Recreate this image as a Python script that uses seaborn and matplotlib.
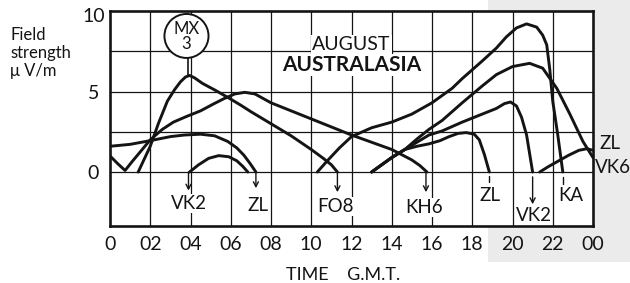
import matplotlib
matplotlib.use("Agg")
import matplotlib.pyplot as plt
from matplotlib.patches import Ellipse, Rectangle
import pandas as pd
import seaborn as sns

# ─── Curves: hour G.M.T. -> field strength (µV/m) ───
fo8_h = [1.4, 1.7, 2.0, 2.4, 2.85, 3.2, 3.5, 3.75, 3.95, 4.2, 4.6, 5.2, 5.9, 6.5, 7.0, 8.0, 9.0, 10.0, 10.6, 11.0, 11.3]
fo8_v = [0.0, 0.8, 1.6, 3.0, 4.4, 5.1, 5.6, 5.9, 6.0, 5.85, 5.5, 5.1, 4.6, 4.15, 3.75, 3.0, 2.25, 1.4, 0.85, 0.45, 0.0]

kh6_h = [0.0, 0.4, 0.75, 1.1, 1.5, 2.0, 2.6, 3.15, 3.8, 4.5, 5.1, 5.65, 6.2, 6.7, 7.2, 8.0, 9.0, 10.0, 11.0, 12.0, 13.0, 14.0, 15.0, 15.4, 15.75]
kh6_v = [1.0, 0.5, 0.1, 0.65, 1.25, 2.0, 2.65, 3.1, 3.45, 3.8, 4.2, 4.55, 4.85, 4.95, 4.85, 4.3, 3.8, 3.3, 2.8, 2.3, 1.85, 1.4, 0.75, 0.4, 0.0]

zl_am_h = [0.0, 1.0, 2.0, 3.0, 3.7, 4.5, 5.2, 5.85, 6.3, 6.65, 6.95, 7.25]
zl_am_v = [1.6, 1.72, 1.95, 2.2, 2.3, 2.35, 2.25, 1.9, 1.5, 1.05, 0.55, 0.0]

arc_am_h = [3.95, 4.4, 4.9, 5.4, 5.9, 6.3, 6.6, 6.85]
arc_am_v = [0.0, 0.45, 0.85, 1.02, 0.95, 0.7, 0.35, 0.0]

ka_h = [10.3, 10.8, 11.4, 12.0, 13.0, 14.0, 15.0, 16.0, 17.0, 17.5, 18.5, 19.2, 19.7, 20.2, 20.7, 21.2, 21.5, 21.7, 21.85, 22.0, 22.25, 22.5]
ka_v = [0.0, 0.7, 1.5, 2.2, 2.75, 3.1, 3.6, 4.3, 5.2, 5.8, 6.9, 7.7, 8.4, 8.95, 9.2, 9.0, 8.5, 7.9, 6.4, 4.4, 2.3, 0.0]

vk6_h = [13.0, 13.5, 14.0, 14.65, 15.25, 15.85, 16.5, 17.5, 18.5, 19.2, 20.0, 20.85, 21.5, 22.2, 22.85, 23.5, 24.0]
vk6_v = [0.0, 0.45, 0.9, 1.4, 2.05, 2.65, 3.2, 4.3, 5.35, 6.05, 6.55, 6.75, 6.45, 5.2, 3.6, 1.9, 0.9]

vk2_pm_h = [13.0, 13.5, 14.0, 14.65, 15.25, 15.85, 16.5, 17.5, 18.5, 19.2, 19.6, 19.9, 20.2, 20.45, 20.7, 21.0]
vk2_pm_v = [0.0, 0.45, 0.9, 1.4, 1.85, 2.3, 2.55, 3.1, 3.6, 3.95, 4.25, 4.35, 4.1, 3.4, 2.3, 0.0]

zl_pm_h = [13.0, 13.5, 14.0, 14.65, 15.25, 15.85, 16.4, 16.85, 17.3, 17.7, 18.1, 18.35, 18.6, 18.85]
zl_pm_v = [0.0, 0.45, 0.9, 1.4, 1.6, 1.75, 1.95, 2.2, 2.4, 2.45, 2.35, 2.0, 1.1, 0.0]

zl_late_h = [21.35, 21.8, 22.3, 22.8, 23.3, 23.7, 24.0]
zl_late_v = [0.0, 0.35, 0.7, 1.05, 1.35, 1.45, 1.35]

hour_ticks = list(range(0, 25, 2))
hour_labels = ["0", "02", "04", "06", "08", "10", "12", "14", "16", "18", "20", "22", "00"]

# station markers under the zero line
stations = ["VK2", "ZL", "FO8", "KH6", "ZL", "VK2", "KA"]
station_hour = [3.9, 7.25, 11.3, 15.7, 18.85, 21.0, 22.5]

curves = {
    "fo8": (fo8_h, fo8_v), "kh6": (kh6_h, kh6_v), "zl_am": (zl_am_h, zl_am_v),
    "arc_am": (arc_am_h, arc_am_v), "ka": (ka_h, ka_v), "vk6": (vk6_h, vk6_v),
    "vk2_pm": (vk2_pm_h, vk2_pm_v), "zl_pm": (zl_pm_h, zl_pm_v), "zl_late": (zl_late_h, zl_late_v),
}
df = pd.concat([pd.DataFrame({"curve": k, "hour": h, "value": v}) for k, (h, v) in curves.items()],
               ignore_index=True)

sns.set_style("white")
plt.rcParams["font.family"] = ["Lato", "DejaVu Sans"]

INK = "#141414"
fig = plt.figure(figsize=(6.3, 2.83), dpi=100)
# greyish scan of the facing page on the right
fig.patches.append(Rectangle((0.775, 0.075), 0.225, 0.925, transform=fig.transFigure,
                             fc="#ebebeb", ec="none", zorder=-5))
ax = fig.add_axes([110 / 630, 1 - 226 / 283, 483 / 630, 215 / 283])
ax.set_zorder(1)
ax.set_facecolor("white")

# ── grid ──
for h in hour_ticks[1:-1]:
    ax.axvline(h, color=INK, lw=0.9, zorder=1)
for v in [0, 2.5, 5, 7.5]:
    ax.axhline(v, color=INK, lw=0.9, zorder=1)

sns.lineplot(data=df, x="hour", y="value", units="curve", estimator=None, sort=False,
             color=INK, lw=2.1, ax=ax, legend=False, zorder=3,
             solid_capstyle="round", solid_joinstyle="round")

ax.set_xlim(0, 24)
ax.set_ylim(-3.35, 10)
ax.set_xlabel("")
ax.set_ylabel("")

for s in ax.spines.values():
    s.set_visible(True)
    s.set_linewidth(1.9)
    s.set_color(INK)
    s.set_zorder(6)

ax.set_xticks(hour_ticks)
ax.set_xticklabels(hour_labels)
ax.set_yticks([0, 2.5, 5, 7.5])
ax.set_yticklabels(["0", "", "5", ""])
ax.tick_params(axis="x", direction="out", length=3, width=1.2, pad=4, labelsize=14, colors=INK)
ax.tick_params(axis="y", direction="out", length=7, width=0.9, pad=1, labelsize=14, colors=INK)
ax.text(-0.25, 9.65, "10", ha="right", va="center", fontsize=14, color=INK)

# ── station arrows and labels ──
arrow_style = dict(arrowstyle="->,head_length=0.35,head_width=0.18", lw=1.0, color=INK,
                   shrinkA=0, shrinkB=0)
arrow_span = [(0, -1.15), (0, -1.0), (0, -1.25), (0, -1.25), (-0.25, -0.6), (-0.3, -2.0), (-0.3, -0.75)]
label_pos = [(3.9, -1.95), (7.35, -2.05), (11.2, -2.15), (15.6, -2.2), (18.9, -1.45), (21.05, -2.72), (22.9, -1.45)]
for i, (name, h) in enumerate(zip(stations, station_hour)):
    y0, y1 = arrow_span[i]
    if name in ("ZL", "KA") and i >= 4:
        ax.plot([h, h], [y0, y1], color=INK, lw=1.0, zorder=3)
    else:
        ax.annotate("", xy=(h, y1), xytext=(h, y0), arrowprops=arrow_style, zorder=3)
    lx, ly = label_pos[i]
    ax.text(lx, ly, name, ha="center", va="center", fontsize=13.5, color=INK, zorder=4,
            bbox=dict(fc="white", ec="none", pad=0.6))

ax.text(24.3, 1.75, "ZL", ha="left", va="center", fontsize=13.5, color=INK, clip_on=False)
ax.text(24.1, 0.3, "VK6", ha="left", va="center", fontsize=13.5, color=INK, clip_on=False)

# ── MX 3 circle tied to the morning peak ──
ax.plot([3.9, 3.9], [7.08, 6.0], color=INK, lw=1.2, zorder=2)
ax.add_patch(Ellipse((3.8, 8.45), width=2.19, height=2.73, fc="white", ec=INK, lw=1.4, zorder=5))
ax.text(3.8, 8.42, "MX\n3", ha="center", va="center", fontsize=12, linespacing=0.95, color=INK, zorder=6)

ax.text(12.0, 7.9, "AUGUST", ha="center", va="center", fontsize=14, color=INK, zorder=4,
        bbox=dict(fc="white", ec="none", pad=0.8))
ax.text(12.0, 6.65, "AUSTRALASIA", ha="center", va="center", fontsize=15, fontweight="bold",
        color=INK, zorder=4, bbox=dict(fc="white", ec="none", pad=0.8))

fig.text(0.016, 0.905, "Field\nstrength\nμ V/m", ha="left", va="top", fontsize=12,
         linespacing=1.15, color=INK)
fig.text(343 / 630, 1 - 275 / 283, "TIME    G.M.T.", ha="center", va="center", fontsize=13, color=INK)

fig.savefig("out.png", dpi=100)
